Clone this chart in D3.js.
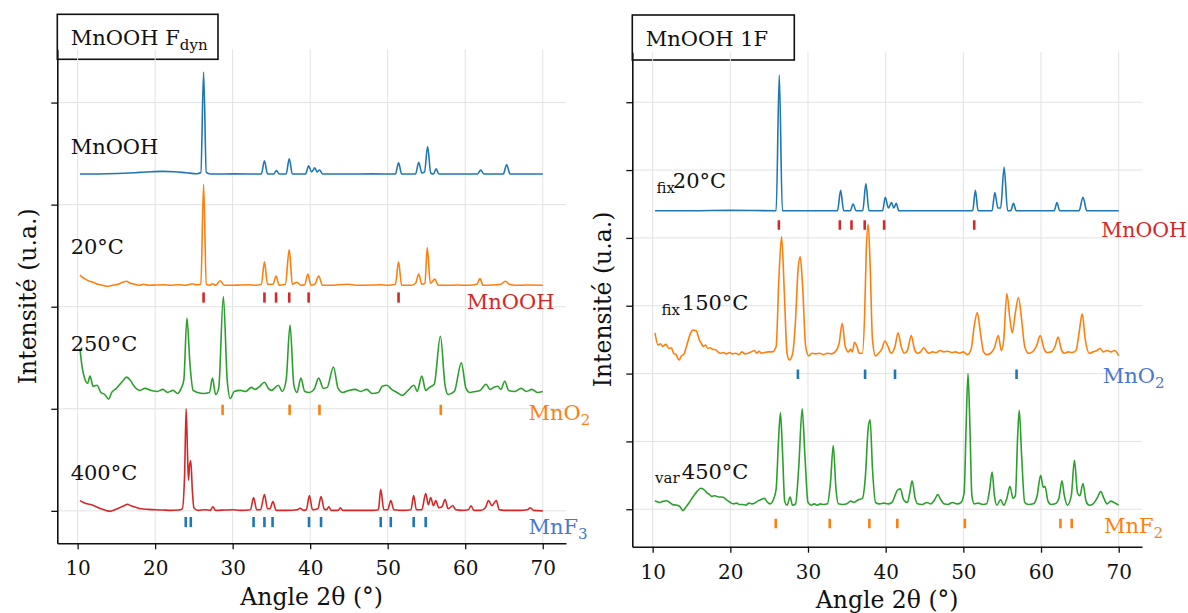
<!DOCTYPE html>
<html><head><meta charset="utf-8">
<script src="https://cdn.jsdelivr.net/npm/d3@7"></script>
<style>
body{margin:0;background:#fff}
svg text{font-family:"DejaVu Serif",serif}
</style>
</head><body>
<svg id="c" width="1188" height="613"></svg>
<script>
// ---------------- DATA ----------------
const xTicks = [10, 20, 30, 40, 50, 60, 70];
const leftYTicks = [0, 1, 2, 3, 4];
const rightYTicks = [0, 0.5, 1, 1.5, 2, 2.5, 3];

// reference (Bragg) positions, 2θ
const refMnOOH = [26.25, 34.1, 35.6, 37.3, 39.8, 51.4];
const refMnO2 = [28.7, 37.35, 41.2, 56.85];
const refMnF3 = [23.95, 24.6, 32.7, 34.1, 35.15, 39.85, 41.4, 49.1, 50.4, 53.35, 54.9];
const refMnF2 = [25.85, 32.8, 37.9, 41.5, 50.2, 62.5, 63.95];

// Left panel (MnOOH Fdyn) normalised patterns [2θ, I]
const leftMnOOH = [[10.3,0],[12,0],[14,0.003],[16,0.008],[18,0.016],[19.5,0.022],[21,0.026],[22.5,0.022],[24,0.012],[25.4,0.003],[25.9,0.015],[26.25,1.0],[26.6,0.015],[27.1,0],[30,0.001],[33.7,0],[34.1,0.13],[34.5,0],[35.3,0],[35.65,0.035],[36,0],[36.9,0],[37.3,0.15],[37.7,0],[39.4,0],[39.8,0.08],[40.2,0.02],[40.6,0.06],[40.9,0.02],[41.2,0.04],[41.6,0],[45,0],[48,0.001],[51,0],[51.4,0.11],[51.8,0],[53.6,0],[54,0.115],[54.4,0.01],[54.75,0.02],[55.15,0.27],[55.55,0.01],[55.9,0],[56.25,0.05],[56.6,0],[61.6,0],[62,0.04],[62.4,0],[64.9,0],[65.35,0.09],[65.8,0],[70,0]];
const left20C = [[10.3,0.11],[10.6,0.09],[11,0.07],[11.5,0.05],[12,0.04],[12.6,0.02],[13.2,0.01],[13.8,0],[14.5,0.01],[15.2,0.02],[15.8,0.04],[16.3,0.05],[16.8,0.03],[17.4,0.02],[18,0.01],[18.5,0.02],[19.2,0.01],[20,0.012],[21,0.015],[22,0.01],[23,0.015],[24,0.01],[24.8,0.025],[25.3,0.015],[25.9,0.02],[26.25,1.0],[26.6,0.02],[27,0.01],[27.4,0.025],[27.8,0.01],[28.4,0.055],[28.9,0.01],[30,0.01],[31,0.012],[32,0.015],[33,0.01],[33.7,0.02],[34.1,0.24],[34.5,0.02],[35.2,0.02],[35.6,0.1],[36,0.01],[36.8,0.02],[37.3,0.36],[37.7,0.02],[38.3,0.04],[38.8,0.01],[39.3,0.015],[39.7,0.12],[40.1,0.01],[40.6,0.02],[41.1,0.1],[41.6,0.01],[42.5,0.01],[44.9,0.02],[46,0.01],[48,0.012],[49,0.015],[50,0.01],[51,0.02],[51.4,0.24],[51.8,0.01],[53,0.01],[53.6,0.03],[54,0.12],[54.4,0.02],[54.8,0.03],[55.1,0.38],[55.5,0.03],[56.1,0.07],[56.5,0.01],[57.5,0.01],[59,0.012],[60.5,0.01],[61.5,0.02],[61.9,0.075],[62.3,0.01],[63.5,0.012],[64.6,0.02],[65.2,0.05],[65.7,0.02],[66.5,0.01],[68,0.012],[70,0.01]];
const left250C = [[10.3,0.49],[10.6,0.3],[10.9,0.2],[11.3,0.15],[11.6,0.22],[12,0.12],[12.5,0.13],[13,0.06],[13.5,0.04],[14,-0.005],[14.4,0.06],[15,0.1],[15.8,0.17],[16.3,0.21],[16.8,0.18],[17.3,0.12],[18,0.08],[18.7,0.1],[19.5,0.08],[20.3,0.07],[21,0.09],[21.6,0.06],[22.3,0.08],[22.9,0.05],[23.3,0.09],[23.7,0.18],[24.1,0.79],[24.5,0.33],[24.9,0.08],[25.5,0.06],[26.2,0.05],[27,0.06],[27.4,0.2],[27.8,0.04],[28.2,0.1],[28.8,1.0],[29.3,0.18],[29.7,0],[30.2,0.07],[31,0.08],[31.7,0.07],[32.4,0.11],[32.9,0.09],[33.5,0.12],[34.1,0.16],[34.6,0.1],[35,0.08],[35.9,0.13],[36.4,0.07],[36.9,0.18],[37.4,0.72],[37.9,0.13],[38.3,0.06],[38.8,0.2],[39.3,0.07],[39.9,0.06],[40.5,0.09],[41.1,0.2],[41.7,0.1],[42.2,0.11],[43,0.31],[43.6,0.1],[44.2,0.06],[45,0.08],[45.8,0.09],[46.5,0.07],[47.3,0.09],[48,0.05],[48.8,0.06],[49.3,0.12],[49.9,0.13],[50.5,0.09],[51.2,0.06],[51.9,0.03],[52.5,0.07],[53.4,0.13],[53.8,0.07],[54.4,0.22],[54.9,0.08],[55.4,0.11],[56,0.14],[56.8,0.61],[57.4,0.13],[57.8,0.04],[58.6,0.07],[59.5,0.35],[60.1,0.1],[60.6,0.06],[61.3,0.07],[61.9,0.08],[62.7,0.14],[63.2,0.09],[63.7,0.11],[64.2,0.12],[64.6,0.09],[65.1,0.17],[65.6,0.08],[66.4,0.07],[67.2,0.1],[67.9,0.07],[68.6,0.09],[69.3,0.06],[70,0.07]];
const left400C = [[10.3,0.1],[10.7,0.085],[11.2,0.07],[11.8,0.06],[12.4,0.04],[13,0.02],[13.6,0.005],[14.2,-0.005],[14.8,0.01],[15.4,0.03],[16,0.05],[16.4,0.065],[16.9,0.05],[17.5,0.035],[18.2,0.02],[19,0.015],[20,0.01],[21,0.008],[22,0.005],[23,0.008],[23.5,0.02],[23.8,0.35],[24,1.0],[24.2,0.5],[24.3,0.3],[24.45,0.45],[24.6,0.49],[24.8,0.2],[25,0.03],[25.5,0.005],[26.5,0.01],[27.1,0.005],[27.45,0.04],[27.8,0.005],[29,0.008],[30,0.01],[31,0.005],[32.3,0.01],[32.7,0.13],[33.1,0.01],[33.6,0.01],[34.1,0.16],[34.5,0.02],[34.8,0.02],[35.2,0.09],[35.6,0.005],[37,0.005],[38.3,0.01],[38.7,0.025],[39.2,0.005],[39.5,0.01],[39.9,0.15],[40.3,0.01],[41,0.02],[41.4,0.14],[41.8,0.02],[42.1,0.01],[42.4,0.04],[42.7,0.005],[43.6,0.005],[43.9,0.03],[44.2,0.005],[46,0.005],[48,0.005],[48.8,0.01],[49.1,0.21],[49.5,0.01],[50,0.01],[50.4,0.1],[50.8,0.01],[52,0.005],[53,0.01],[53.35,0.15],[53.7,0.01],[54.4,0.01],[54.9,0.17],[55.25,0.06],[55.55,0.13],[55.9,0.05],[56.2,0.1],[56.6,0.03],[57,0.04],[57.4,0.11],[57.8,0.02],[58.4,0.05],[58.8,0.01],[59.5,0.005],[60.4,0.01],[60.75,0.05],[61.1,0.005],[62,0.005],[62.6,0.03],[63,0.1],[63.45,0.05],[64,0.1],[64.4,0.01],[65,0.005],[66,0.005],[67,0.005],[68,0.01],[68.4,0.03],[68.8,0.005],[70,0]];

// Right panel (MnOOH 1F)
const rightFix20 = [[10.3,0],[15,0],[20,0.003],[25.9,0],[26.3,1.0],[26.7,0],[33.8,0],[34.2,0.15],[34.6,0],[35.45,0],[35.8,0.05],[36.2,0],[37.05,0],[37.45,0.2],[37.85,0],[39.6,0],[39.95,0.1],[40.35,0.02],[40.75,0.06],[41.05,0.02],[41.35,0.055],[41.7,0],[51.2,0],[51.55,0.15],[51.9,0],[53.7,0],[54.05,0.135],[54.45,0.02],[54.8,0.02],[55.25,0.32],[55.7,0],[56.1,0],[56.45,0.055],[56.8,0],[61.7,0],[62.05,0.06],[62.4,0],[64.9,0],[65.4,0.1],[65.9,0],[70,0]];
const rightFix150 = [[10.3,0.2],[10.7,0.11],[11,0.12],[11.3,0.1],[11.7,0.115],[12.1,0.085],[12.4,0.09],[12.7,0.05],[13,0.04],[13.4,0],[13.7,0.03],[14,0.04],[14.3,0.09],[14.6,0.15],[14.9,0.2],[15.2,0.22],[15.6,0.215],[15.8,0.19],[16,0.15],[16.3,0.12],[16.5,0.1],[16.8,0.11],[17.1,0.085],[17.4,0.09],[17.7,0.08],[18.1,0.075],[18.4,0.06],[18.7,0.05],[19.1,0.055],[19.5,0.045],[19.9,0.055],[20.3,0.045],[20.7,0.05],[21.1,0.04],[21.5,0.06],[21.9,0.045],[22.3,0.05],[22.7,0.06],[23.1,0.07],[23.4,0.05],[23.7,0.065],[24,0.05],[24.4,0.055],[24.9,0.06],[25.4,0.06],[25.9,0.1],[26.25,0.6],[26.6,0.91],[26.95,0.5],[27.3,0.05],[27.6,0],[28,0.04],[28.4,0.3],[28.7,0.65],[29,0.76],[29.3,0.55],[29.7,0.1],[30.1,0.03],[30.5,0.05],[31,0.045],[31.5,0.05],[32,0.04],[32.5,0.05],[33,0.045],[33.5,0.06],[34,0.12],[34.4,0.27],[34.8,0.1],[35.2,0.06],[35.5,0.08],[35.7,0.06],[36,0.13],[36.3,0.1],[36.6,0.05],[37,0.05],[37.3,0.35],[37.5,0.8],[37.75,1.0],[38,0.7],[38.3,0.15],[38.7,0.03],[39.1,0.05],[39.5,0.08],[39.9,0.14],[40.3,0.1],[40.7,0.05],[41.2,0.1],[41.6,0.2],[42,0.1],[42.4,0.05],[42.8,0.07],[43.3,0.18],[43.7,0.08],[44.1,0.05],[44.5,0.06],[44.9,0.09],[45.3,0.06],[45.6,0.05],[46,0.06],[46.5,0.055],[47,0.07],[47.5,0.06],[48,0.065],[48.5,0.055],[49,0.06],[49.5,0.05],[50,0.06],[50.5,0.04],[51,0.08],[51.4,0.25],[51.8,0.35],[52.2,0.2],[52.6,0.06],[53,0.04],[53.5,0.05],[54,0.09],[54.5,0.18],[54.9,0.07],[55.2,0.15],[55.6,0.49],[56,0.3],[56.3,0.2],[56.7,0.35],[57.1,0.46],[57.5,0.3],[57.9,0.1],[58.4,0.05],[58.9,0.06],[59.4,0.1],[59.9,0.18],[60.4,0.08],[60.8,0.055],[61.3,0.06],[61.8,0.1],[62.2,0.17],[62.6,0.08],[63,0.05],[63.5,0.06],[64,0.055],[64.5,0.07],[64.9,0.2],[65.3,0.34],[65.7,0.15],[66.2,0.05],[66.7,0.06],[67.2,0.07],[67.6,0.085],[68,0.06],[68.5,0.07],[69,0.06],[69.5,0.07],[70,0.03]];
const rightVar450 = [[10.3,0.063],[10.6,0.055],[10.9,0.05],[11.3,0.058],[11.8,0.063],[12.2,0.05],[12.6,0.034],[13.1,0.03],[13.5,0.02],[13.9,-0.01],[14.2,0.01],[14.6,0.04],[15,0.075],[15.3,0.1],[15.7,0.13],[16.2,0.155],[16.7,0.14],[17,0.12],[17.3,0.11],[17.6,0.095],[18,0.1],[18.5,0.09],[18.9,0.09],[19.3,0.08],[19.6,0.065],[20,0.05],[20.4,0.04],[20.8,0.045],[21.2,0.035],[21.6,0.035],[22,0.03],[22.4,0.045],[22.8,0.04],[23.1,0.045],[23.5,0.06],[23.9,0.07],[24.4,0.08],[24.8,0.05],[25.1,0.04],[25.6,0.08],[25.9,0.15],[26.2,0.5],[26.45,0.71],[26.7,0.45],[27,0.06],[27.3,0.03],[27.7,0.09],[28,0.03],[28.4,0.04],[28.8,0.3],[29.25,0.74],[29.6,0.4],[30,0.05],[30.4,0.03],[30.8,0.04],[31.2,0.03],[31.6,0.04],[32,0.035],[32.5,0.04],[32.9,0.2],[33.25,0.47],[33.6,0.15],[33.9,0.04],[34.5,0.035],[35,0.04],[35.5,0.06],[35.9,0.05],[36.5,0.07],[37,0.08],[37.4,0.25],[37.75,0.6],[38,0.66],[38.3,0.3],[38.7,0.05],[39.2,0.04],[39.8,0.045],[40.3,0.04],[40.8,0.05],[41.2,0.1],[41.5,0.14],[41.9,0.15],[42.3,0.07],[42.8,0.05],[43.1,0.12],[43.4,0.21],[43.8,0.08],[44.1,0.04],[44.7,0.035],[45.3,0.05],[45.8,0.04],[46.3,0.07],[46.7,0.108],[47.1,0.07],[47.5,0.04],[48,0.035],[48.6,0.05],[49.2,0.04],[49.7,0.05],[50.1,0.12],[50.35,0.6],[50.6,1.0],[50.85,0.6],[51.1,0.1],[51.4,0.04],[51.9,0.045],[52.5,0.035],[53,0.04],[53.4,0.15],[53.7,0.275],[54,0.1],[54.3,0.03],[54.8,0.07],[55.2,0.03],[55.6,0.08],[56,0.17],[56.4,0.08],[56.7,0.1],[57,0.55],[57.2,0.73],[57.5,0.4],[57.9,0.05],[58.4,0.035],[59,0.04],[59.5,0.1],[59.95,0.25],[60.3,0.16],[60.5,0.17],[60.9,0.06],[61.3,0.035],[61.8,0.04],[62.3,0.08],[62.7,0.21],[63,0.1],[63.4,0.03],[63.9,0.1],[64.3,0.36],[64.7,0.12],[65,0.1],[65.4,0.19],[65.8,0.06],[66.2,0.03],[66.7,0.04],[67.2,0.08],[67.7,0.13],[68.1,0.08],[68.5,0.04],[69,0.06],[69.4,0.05],[70,0.03]];

const leftOffsets = [3.3, 2.2, 1.1, 0];
const rightOffsets = [2.2, 1.1, 0];

// ---------------- STYLE / LAYOUT ----------------
const COL = {blue:"#1f77b4", orange:"#ff7f0e", green:"#2ca02c", red:"#d62728"};
const LBL = {red:"#d62728", orange:"#ff7f0e", blue:"#4878cf"};
const svg = d3.select("#c");
svg.append("rect").attr("width",1188).attr("height",613).attr("fill","#fff");

function drawPanel(p) {
  const x = d3.scaleLinear().domain([7.38, 73]).range([p.left, p.right]);
  const y = d3.scaleLinear().domain(p.yDomain).range([p.bottom, p.top]);
  const g = svg.append("g");

  // title box
  g.append("rect").attr("x", p.box[0]).attr("y", p.box[1])
    .attr("width", p.box[2]).attr("height", p.box[3])
    .attr("fill", "#fff").attr("stroke", "#111").attr("stroke-width", 1.6);
  const tt = g.append("text").attr("x", p.box[0] + 13.5).attr("y", p.box[1] + 31)
    .attr("font-size", 21).attr("fill", "#111").text(p.title);
  if (p.titleSub) tt.append("tspan").attr("dy", 5).attr("font-size", 15).text(p.titleSub);

  // grid
  g.append("g").selectAll("line").data(xTicks).join("line")
    .attr("x1", d => x(d)).attr("x2", d => x(d)).attr("y1", p.top).attr("y2", p.bottom)
    .attr("stroke", "#e2e2e2").attr("stroke-width", 1);
  g.append("g").selectAll("line").data(p.yTicks).join("line")
    .attr("x1", p.left).attr("x2", p.right).attr("y1", d => y(d)).attr("y2", d => y(d))
    .attr("stroke", "#e2e2e2").attr("stroke-width", 1);

  // axes
  const xa = g.append("g").attr("transform", `translate(0,${p.bottom})`)
    .call(d3.axisBottom(x).tickValues(xTicks).tickSize(6).tickSizeOuter(0).tickFormat(d3.format("d")));
  xa.selectAll(".tick text").attr("y", 32).attr("dy", null).attr("font-size", 20)
    .attr("font-family", '"DejaVu Serif", serif').attr("fill", "#111");
  const ya = g.append("g").attr("transform", `translate(${p.left},0)`)
    .call(d3.axisLeft(y).tickValues(p.yTicks).tickSize(6).tickSizeOuter(0).tickFormat(""));
  [xa, ya].forEach(a => {
    a.select(".domain").attr("stroke", "#111").attr("stroke-width", 1.6);
    a.selectAll(".tick line").attr("stroke", "#111").attr("stroke-width", 1.3);
  });

  // axis titles
  g.append("text").attr("x", (p.left + p.right) / 2).attr("y", p.xTitleY)
    .attr("text-anchor", "middle").attr("font-size", 23.5).attr("fill", "#111").text("Angle 2θ (°)");
  g.append("text").attr("transform", `translate(${p.left - 21},${(p.top + p.bottom) / 2}) rotate(-90)`)
    .attr("text-anchor", "middle").attr("font-size", 23.5).attr("fill", "#111").text("Intensité (u.a.)");

  // curves
  const line = d3.line().curve(d3.curveMonotoneX);
  p.series.forEach(s => {
    g.append("path")
      .attr("d", line(s.data.map(d => [x(d[0]), y(d[1] + s.offset)])))
      .attr("fill", "none").attr("stroke", s.color).attr("stroke-width", 1.6)
      .attr("stroke-linejoin", "round");
  });

  // reference bars
  p.refs.forEach(r => {
    g.append("g").selectAll("line").data(r.pos).join("line")
      .attr("x1", d => x(d)).attr("x2", d => x(d))
      .attr("y1", y(r.offset - p.barTop)).attr("y2", y(r.offset - p.barBot))
      .attr("stroke", r.color).attr("stroke-width", 2.6);
    const t = g.append("text").attr("x", x(r.lx)).attr("y", y(r.ly))
      .attr("font-size", r.fs || 21).attr("fill", r.lcolor).text(r.name);
    if (r.sub) t.append("tspan").attr("dy", 5).attr("font-size", 15).text(r.sub);
  });

  // sample labels
  p.labels.forEach(l => {
    if (l.pre) g.append("text").attr("x", x(l.px)).attr("y", y(l.py))
      .attr("font-size", 15).attr("fill", "#111").text(l.pre);
    g.append("text").attr("x", x(l.x)).attr("y", y(l.y))
      .attr("font-size", 21).attr("fill", "#111").text(l.text);
  });
}

drawPanel({
  left: 57.3, right: 566, top: 49.3, bottom: 543.3,
  yDomain: [-0.318, 4.522], yTicks: leftYTicks,
  box: [57.3, 14.3, 160.7, 45], title: "MnOOH F", titleSub: "dyn",
  xTitleY: 605,
  barTop: 0.06, barBot: 0.16,
  series: [
    {data: leftMnOOH, offset: leftOffsets[0], color: COL.blue},
    {data: left20C, offset: leftOffsets[1], color: COL.orange},
    {data: left250C, offset: leftOffsets[2], color: COL.green},
    {data: left400C, offset: leftOffsets[3], color: COL.red}
  ],
  refs: [
    {pos: refMnOOH, offset: leftOffsets[1], color: COL.red, lcolor: LBL.red, name: "MnOOH", lx: 60.2, ly: 1.975},
    {pos: refMnO2, offset: leftOffsets[2], color: COL.orange, lcolor: LBL.orange, name: "MnO", sub: "2", lx: 68.15, ly: 0.89},
    {pos: refMnF3, offset: leftOffsets[3], color: COL.blue, lcolor: LBL.blue, name: "MnF", sub: "3", lx: 68.15, ly: -0.227}
  ],
  labels: [
    {text: "MnOOH", x: 9.1, y: 3.496},
    {text: "20°C", x: 9.1, y: 2.52},
    {text: "250°C", x: 9.1, y: 1.57},
    {text: "400°C", x: 9.1, y: 0.305}
  ]
});

drawPanel({
  left: 632.3, right: 1142, top: 52.3, bottom: 546.7,
  yDomain: [-0.276, 3.368], yTicks: rightYTicks,
  box: [632.3, 15, 162, 45], title: "MnOOH 1F",
  xTitleY: 608,
  barTop: 0.07, barBot: 0.14,
  series: [
    {data: rightFix20, offset: rightOffsets[0], color: COL.blue},
    {data: rightFix150, offset: rightOffsets[1], color: COL.orange},
    {data: rightVar450, offset: rightOffsets[2], color: COL.green}
  ],
  refs: [
    {pos: refMnOOH, offset: rightOffsets[0], color: COL.red, lcolor: LBL.red, name: "MnOOH", lx: 67.75, ly: 2.009, fs: 20.5},
    {pos: refMnO2, offset: rightOffsets[1], color: COL.blue, lcolor: LBL.blue, name: "MnO", sub: "2", lx: 67.95, ly: 0.931},
    {pos: refMnF2, offset: rightOffsets[2], color: COL.orange, lcolor: LBL.orange, name: "MnF", sub: "2", lx: 68.1, ly: -0.175}
  ],
  labels: [
    {pre: "fix", px: 10.5, py: 2.333, text: "20°C", x: 12.6, y: 2.366},
    {pre: "fix", px: 11.15, py: 1.432, text: "150°C", x: 13.75, y: 1.469},
    {pre: "var", px: 10.3, py: 0.193, text: "450°C", x: 13.75, y: 0.221}
  ]
});
</script>
</body></html>
